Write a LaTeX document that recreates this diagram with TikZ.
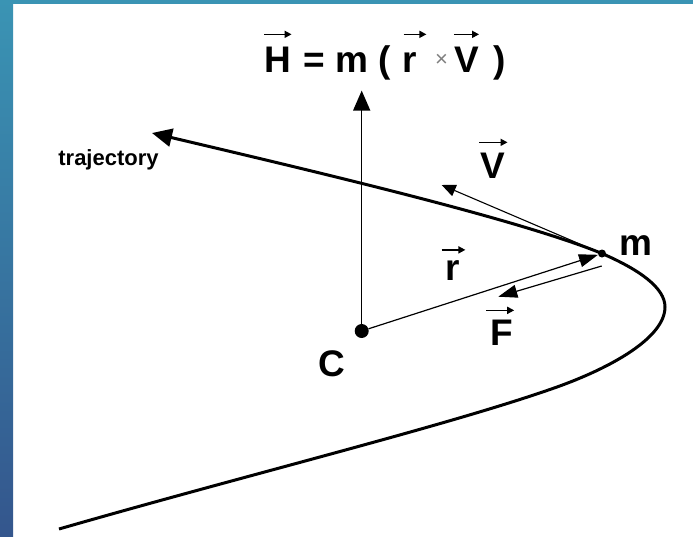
\documentclass[tikz,border=0pt]{standalone}
\usepackage{fontspec}
\setmainfont{Liberation Sans}
\usetikzlibrary{arrows.meta, calc}

\definecolor{frametop}{RGB}{58,148,180}
\definecolor{framebot}{RGB}{52,86,141}

\begin{document}
\begin{tikzpicture}[x=1pt, y=-1pt,
    % --- Label styles ---
    lbl/.style={font=\fontsize{37}{40}\selectfont\bfseries, inner sep=0pt, anchor=base},
    smalllbl/.style={font=\fontsize{22}{24}\selectfont\bfseries, inner sep=0pt, anchor=base},
    timeslbl/.style={font=\fontsize{22}{24}\selectfont, text=gray, inner sep=0pt},
    % --- Point styles ---
    dot/.style={circle, fill=black, inner sep=0pt, minimum size=#1},
    dot/.default=8pt,
    % --- Arrow styles ---
    orbit/.style={line width=3pt, {Triangle[length=20pt,width=18pt]}-},
    bigvec/.style={-{Triangle[length=20pt,width=17pt]}, line width=1.5pt},
    thinvec/.style={-{Triangle[length=19pt,width=13pt]}, line width=1.2pt},
    smallvec/.style={-{Triangle[length=14pt,width=12pt]}, line width=1.1pt},
    overarr/.style={-{Triangle[length=7pt,width=7pt]}, line width=1.6pt},
]

% =============================================
%  Frame
% =============================================
\useasboundingbox (0,0) rectangle (693,536);
\fill[white] (0,0) rectangle (693,536);
\shade[top color=frametop, bottom color=framebot] (0,0) rectangle (13,536);
\fill[frametop] (0,0) rectangle (693,4);

% =============================================
%  Points
% =============================================
\node[dot=14pt] (C) at (361.7,331) {};
\node[dot] (m) at (602,253.5) {};
\coordinate (Htop)    at (361.7,90.6);
\coordinate (Vtip)    at (441.7,185);
\coordinate (Fbeg)    at (601.7,266);
\coordinate (Fend)    at (498.3,296.7);
\coordinate (trajtip) at (152,133);
\coordinate (vertex)  at (665,307);
\coordinate (trajend) at (59,529);

% =============================================
%  Trajectory
% =============================================
\draw[orbit] (trajtip) .. controls (330,175) and (520,220) .. (m.center)
    .. controls (640,270) and (665,288) .. (vertex)
    .. controls (665,338) and (610,368) .. (557,387)
    .. controls (450,425) and (250,474) .. (trajend);

% =============================================
%  Vectors
% =============================================
\draw[bigvec] (C) -- (Htop);
\draw[thinvec] (C) -- (m);
\draw[smallvec] (m) -- (Vtip);
\draw[thinvec] (Fbeg) -- (Fend);

% =============================================
%  Title: H = m ( r x V )
% =============================================
\node[lbl] (Hsym)   at (278,72)   {H};
\node[lbl] (eqm)    at (347.5,72) {= m (};
\node[lbl] (rsym)   at (410,72)   {r};
\node[timeslbl] (times) at (441.5,60) {×};
\node[lbl] (Vsym)   at (466.5,72) {V};
\node[lbl] (rparen) at (500,72)   {)};
\coordinate (Hbar) at ([yshift=12pt]Hsym.north);
\draw[overarr] (Hsym.west |- Hbar) -- (Hsym.east |- Hbar);
\draw[overarr] ($(rsym.west |- Hbar)+(1,0)$) -- ($(rsym.east |- Hbar)+(9,0)$);
\draw[overarr] (Vsym.west |- Hbar) -- (Vsym.east |- Hbar);

% =============================================
%  Labels
% =============================================
\node[smalllbl] (trajlbl) at (108.5,165.7) {trajectory};
\node[lbl] (Vlbl) at (493,178)   {V};
\node[lbl] (mlbl) at (636,255)   {m};
\node[lbl] (rlbl) at (453,280)   {r};
\node[lbl] (Flbl) at (501.7,345) {F};
\node[lbl] (Clbl) at (332,376.7) {C};

\draw[overarr] ([shift={(-1,-10)}]Vlbl.north west) -- ([shift={(2,-10)}]Vlbl.north east);
\draw[overarr] ([shift={(-4,-10)}]rlbl.north west) -- ([shift={(5,-10)}]rlbl.north east);
\draw[overarr] ([shift={(-4,-9)}]Flbl.north west)  -- ([shift={(1,-9)}]Flbl.north east);

\end{tikzpicture}
\end{document}
